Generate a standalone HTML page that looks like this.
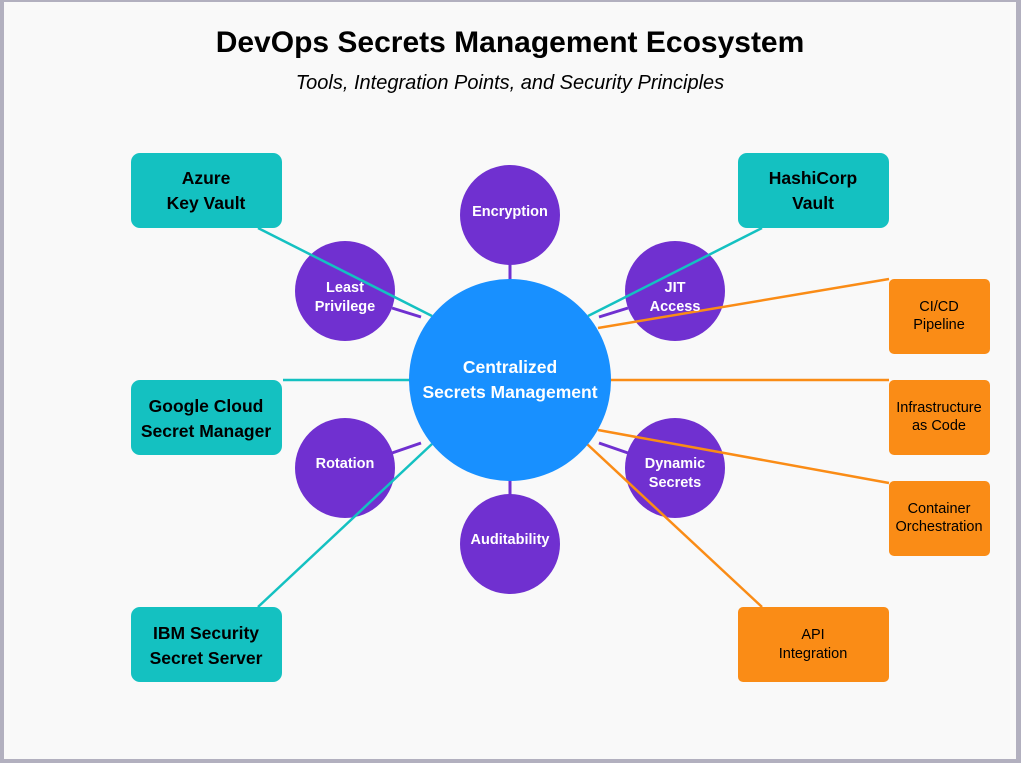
<!DOCTYPE html>
<html><head><meta charset="utf-8"><style>
html,body{margin:0;padding:0;background:#b2b0bf;width:1021px;height:763px;overflow:hidden}
svg{display:block}
</style></head><body>
<svg width="1021" height="763" viewBox="0 0 1021 763" xmlns="http://www.w3.org/2000/svg" font-family="Liberation Sans, Arial, sans-serif">
<rect x="4" y="2" width="1012" height="757" fill="#f9f9f9"/>
<text x="510" y="52" text-anchor="middle" font-size="30" font-weight="bold" fill="#000">DevOps Secrets Management Ecosystem</text>
<text x="510" y="89" text-anchor="middle" font-size="20" font-style="italic" fill="#000">Tools, Integration Points, and Security Principles</text>
<g stroke="#7030d0" stroke-width="3">
<line x1="510" y1="265" x2="510" y2="280"/>
<line x1="510" y1="480" x2="510" y2="495"/>
<line x1="392" y1="308" x2="421" y2="317"/>
<line x1="628" y1="308" x2="599" y2="317"/>
<line x1="392" y1="453" x2="421" y2="443"/>
<line x1="628" y1="453" x2="599" y2="443"/>
</g>
<g fill="#7030d0">
<circle cx="510" cy="215" r="50"/>
<circle cx="345" cy="291" r="50"/>
<circle cx="675" cy="291" r="50"/>
<circle cx="345" cy="468" r="50"/>
<circle cx="675" cy="468" r="50"/>
<circle cx="510" cy="544" r="50"/>
</g>
<g stroke="#14c1c1" stroke-width="2.5">
<line x1="258" y1="228" x2="432" y2="316"/>
<line x1="762" y1="228" x2="588" y2="316"/>
<line x1="283" y1="380" x2="410" y2="380"/>
<line x1="258" y1="607" x2="432" y2="444"/>
</g>
<g stroke="#fa8c16" stroke-width="2.5">
<line x1="889" y1="279" x2="598" y2="328"/>
<line x1="610" y1="380" x2="889" y2="380"/>
<line x1="598" y1="430" x2="889" y2="483"/>
<line x1="587" y1="444" x2="762" y2="607"/>
</g>
<circle cx="510" cy="380" r="101" fill="#1890ff"/>
<g fill="#fff" font-weight="bold" text-anchor="middle">
<text x="510" y="373" font-size="17.5">Centralized</text>
<text x="510" y="398" font-size="17.5">Secrets Management</text>
<g font-size="14.5">
<text x="510" y="216">Encryption</text>
<text x="345" y="292">Least</text><text x="345" y="311">Privilege</text>
<text x="675" y="292">JIT</text><text x="675" y="311">Access</text>
<text x="345" y="468">Rotation</text>
<text x="675" y="468">Dynamic</text><text x="675" y="487">Secrets</text>
<text x="510" y="544">Auditability</text>
</g>
</g>
<g fill="#14c1c1">
<rect x="131" y="153" width="151" height="75" rx="9"/>
<rect x="738" y="153" width="151" height="75" rx="9"/>
<rect x="131" y="380" width="151" height="75" rx="9"/>
<rect x="131" y="607" width="151" height="75" rx="9"/>
</g>
<g fill="#fa8c16">
<rect x="889" y="279" width="101" height="75" rx="5"/>
<rect x="889" y="380" width="101" height="75" rx="5"/>
<rect x="889" y="481" width="101" height="75" rx="5"/>
<rect x="738" y="607" width="151" height="75" rx="5"/>
</g>
<g fill="#000" font-weight="bold" font-size="17.5" text-anchor="middle">
<text x="206" y="184">Azure</text><text x="206" y="209">Key Vault</text>
<text x="813" y="184">HashiCorp</text><text x="813" y="209">Vault</text>
<text x="206" y="412">Google Cloud</text><text x="206" y="437">Secret Manager</text>
<text x="206" y="639">IBM Security</text><text x="206" y="664">Secret Server</text>
</g>
<g fill="#000" font-size="14.5" text-anchor="middle">
<text x="939" y="311">CI/CD</text><text x="939" y="329">Pipeline</text>
<text x="939" y="412">Infrastructure</text><text x="939" y="430">as Code</text>
<text x="939" y="513">Container</text><text x="939" y="531">Orchestration</text>
<text x="813" y="639">API</text><text x="813" y="658">Integration</text>
</g>
</svg>
</body></html>
